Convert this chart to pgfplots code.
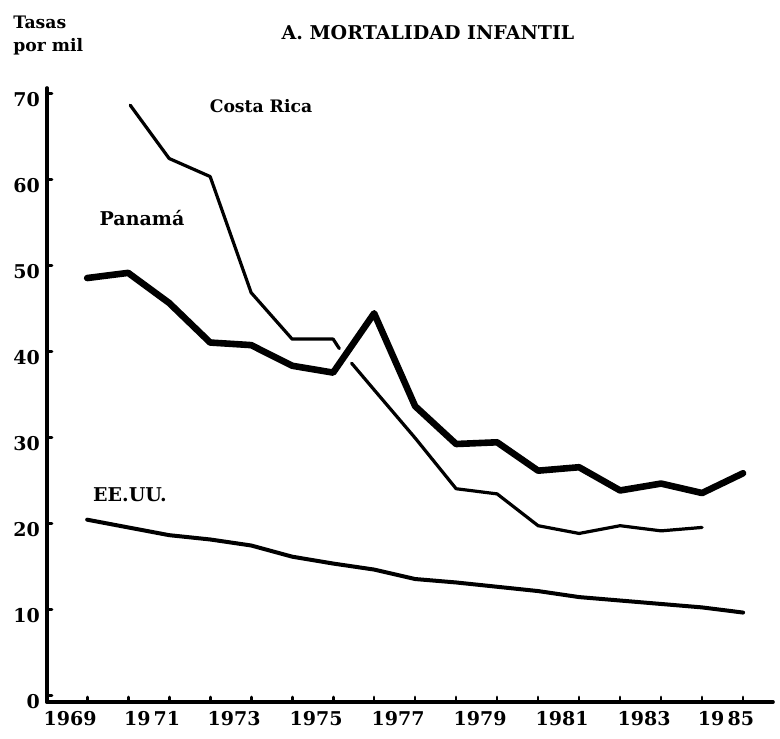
\documentclass[border=0pt]{standalone}
\usepackage{pgfplots}
\pgfplotsset{compat=1.18}
\usepackage{fontspec}
\setmainfont{DejaVu Serif}
\newcommand\lbl{\fontsize{9.5}{11}\selectfont\bfseries}
\newcommand\slbl{\fontsize{8.6}{10}\selectfont\bfseries}
\begin{document}
\begin{tikzpicture}[x=1pt,y=1pt]
\useasboundingbox (0,0) rectangle (390,369);
\begin{axis}[
 at={(23.5pt,18pt)}, anchor=south west,
 scale only axis, width=363pt, height=307pt,
 xmin=1968.02, xmax=1985.73, ymin=-0.8, ymax=70.6,
 axis x line=bottom, axis y line=left,
 axis line style={-, line width=1.8pt},
 xtick={1969,...,1985},
 xticklabels={1969,{},19\,71,{},1973,{},1975,{},1977,{},1979,{},1981,{},1983,{},19\,85},
 ytick={0,10,...,70},
 tick align=inside, major tick length=2.5pt,
 tick style={line width=1.4pt, black},
 ticklabel style={font=\lbl},
 xticklabel style={xshift=-8.5pt, yshift=-1pt},
 yticklabel style={yshift=-3pt},
 /pgf/number format/assume math mode=true,
 clip=false,
 line join=round, line cap=round,
]
% Panama
\addplot[black, line width=3.3pt] coordinates {
(1969,48.5) (1970,49.1) (1971,45.6) (1972,41.0) (1973,40.7) (1974,38.3)
(1975,37.5) (1976,44.4) (1977,33.6) (1978,29.2) (1979,29.4) (1980,26.1)
(1981,26.5) (1982,23.8) (1983,24.6) (1984,23.5) (1985,25.8)};
% Costa Rica, first segment
\addplot[black, line width=1.6pt] coordinates {
(1970.05,68.6) (1971,62.4) (1972,60.3) (1973,46.8) (1974,41.4) (1975,41.4) (1975.15,40.3)};
% Costa Rica, second segment
\addplot[black, line width=1.6pt] coordinates {
(1975.45,38.6) (1976,35.5) (1977,29.9) (1978,24.0) (1979,23.4) (1980,19.7)
(1981,18.8) (1982,19.7) (1983,19.1) (1984,19.5)};
% EE.UU.
\addplot[black, line width=2pt] coordinates {
(1969,20.4) (1970,19.5) (1971,18.6) (1972,18.1) (1973,17.4) (1974,16.1)
(1975,15.3) (1976,14.6) (1977,13.5) (1978,13.1) (1979,12.6) (1980,12.1)
(1981,11.4) (1982,11.0) (1983,10.6) (1984,10.2) (1985,9.6)};
\end{axis}
\node[anchor=west, font=\slbl, inner sep=0pt] at (6.5,358) {Tasas};
\node[anchor=west, font=\slbl, inner sep=0pt] at (6.5,345.5) {por mil};
\node[font=\lbl, inner sep=0pt] at (214,352.5) {A. MORTALIDAD INFANTIL};
\node[font=\slbl, inner sep=0pt] at (130.5,316) {Costa Rica};
\node[font=\lbl, inner sep=0pt] at (71,260) {Panamá};
\node[font=\lbl, inner sep=0pt] at (65,121.5) {EE.UU.};
\end{tikzpicture}
\end{document}
